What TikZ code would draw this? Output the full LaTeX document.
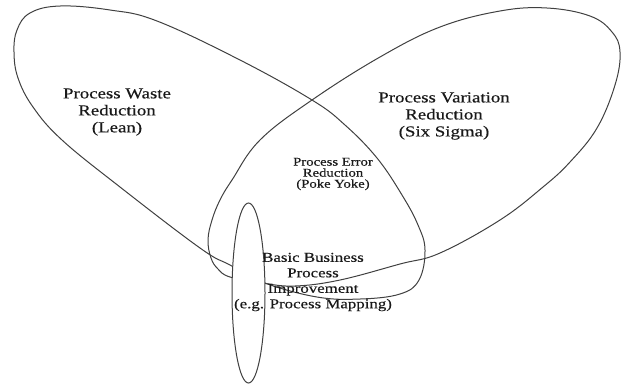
\documentclass[tikz,border=0pt]{standalone}
\usepackage{fontspec}
\setmainfont{Liberation Serif}[FakeStretch=1.24, FakeBold=0.4]
\usetikzlibrary{shapes.geometric}
\begin{document}
\begin{tikzpicture}[x=0.75pt,y=-0.75pt,
  outline/.style={draw=black!75, line width=0.75pt},
  biglabel/.style={align=center, text=black!90, inner sep=0pt,
    font=\fontsize{11.4pt}{12.75pt}\selectfont},
  smalllabel/.style={align=center, text=black!90, inner sep=0pt,
    font=\fontsize{8.9pt}{8.25pt}\selectfont},
  midlabel/.style={align=center, text=black!90, inner sep=0pt,
    font=\fontsize{10.2pt}{11.6pt}\selectfont}]
\useasboundingbox (0,0) rectangle (627,387);

% Lean loop (upper left to lower right)
\draw[outline] plot[smooth cycle, tension=0.65] coordinates {
  (14,52) (17,30) (30,13) (60,6) (110,10) (157,21) (240,60) (312,100)
  (345,125) (377,158) (402,195) (418,225) (425,250) (419,280) (400,294)
  (360,299) (317,297) (265,283) (230,265) (200,248) (120,187) (62,140)
  (33,107) (18,78)};

% Six Sigma loop (upper right to lower left)
\draw[outline] plot[smooth cycle, tension=0.65] coordinates {
  (547,8) (590,16) (612,32) (620,52) (615,85) (597,128) (570,162)
  (543,187) (500,220) (440,253) (400,264) (340,280) (295,286) (262,283)
  (230,277) (218,269) (211,258) (208,240) (212,220) (220,200) (232,180)
  (260,140) (312,100) (380,57) (440,27) (500,11)};

% Narrow upright ring for basic process improvement
\node[outline, ellipse, fill=white, minimum width=24.75pt,
  minimum height=135pt, inner sep=0pt] (bpiring) at (248.5,293) {};

\node[biglabel] (lean) at (117,112) {Process Waste\\Reduction\\(Lean)};
\node[biglabel] (sixsigma) at (444,116) {Process Variation\\Reduction\\(Six Sigma)};
\node[smalllabel] (pokeyoke) at (333,174) {Process Error\\Reduction\\(Poke Yoke)};
\node[midlabel] (bpi) at (313,282) {Basic Business\\Process\\Improvement\\(e.g. Process Mapping)};
\end{tikzpicture}
\end{document}
